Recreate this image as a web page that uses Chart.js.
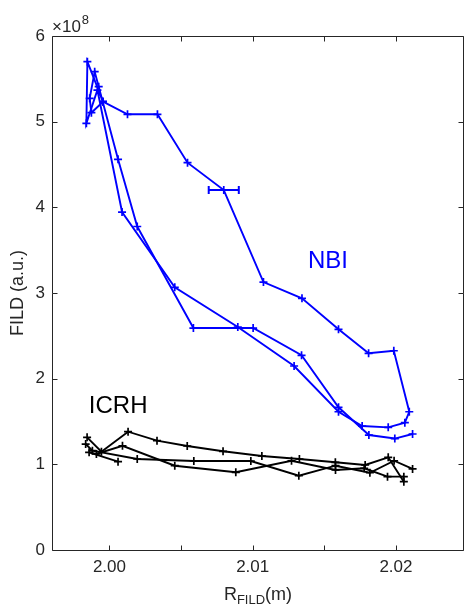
<!DOCTYPE html>
<html>
<head>
<meta charset="utf-8">
<script src="https://cdn.jsdelivr.net/npm/chart.js@4.4.1/dist/chart.umd.min.js"></script>
<style>
  html, body { margin: 0; padding: 0; background: #fff; }
  #wrap { position: relative; width: 464px; height: 607px; }
</style>
</head>
<body>
<div id="wrap"><canvas id="fild-chart"></canvas></div>
<script>
// FILD signal (in units of 1e8) against probe radius, NBI and ICRH heated phases

// NBI: outer trace, goes out along the upper branch and comes back
var nbiOutR    = [1.99955, 2.00126, 2.00335, 2.00545, 2.00798, 2.01075, 2.01344, 2.01599, 2.01809, 2.01985, 2.02093, 2.02062, 2.01946, 2.01764, 2.01599, 2.01289, 2.00896, 2.00456, 2.00088, 1.99916, 1.99839, 1.99846, 1.99955];
var nbiOutFild = [5.233, 5.086, 5.086, 4.521, 4.202, 3.128, 2.938, 2.576, 2.296, 2.326, 1.614, 1.486, 1.432, 1.447, 1.614, 2.148, 2.603, 3.066, 3.945, 5.369, 4.981, 5.700, 5.233];

// NBI: inner trace
var nbiInR    = [2.02116, 2.01992, 2.01811, 2.01599, 2.01341, 2.01003, 2.00586, 2.00194, 2.00060, 1.99925, 1.99897, 1.99862, 1.99874, 1.99955];
var nbiInFild = [1.354, 1.301, 1.342, 1.666, 2.273, 2.591, 2.591, 3.776, 4.560, 5.408, 5.583, 5.273, 5.105, 5.233];

// NBI point with radial uncertainty
var nbiErrR    = [2.00798];
var nbiErrFild = [4.202];
var nbiErrDR   = [0.00105];

// ICRH traces
var icrhAR    = [1.99844, 1.99944, 2.00130, 2.00332, 2.00543, 2.00793, 2.01064, 2.01326, 2.01577, 2.01785, 2.01946, 2.02055];
var icrhAFild = [1.315, 1.147, 1.381, 1.276, 1.214, 1.152, 1.097, 1.062, 1.024, 0.992, 1.082, 0.797];

var icrhBR    = [1.99834, 1.99881, 2.00194, 2.00589, 2.00987, 2.01322, 2.01578, 2.01818, 2.01987, 2.02116];
var icrhBFild = [1.237, 1.159, 1.062, 1.039, 1.039, 0.867, 0.984, 0.902, 1.042, 0.946];

var icrhCR    = [2.00060, 1.99858, 1.99909, 2.00091, 2.00456, 2.00882, 2.01271, 2.01578, 2.01778, 2.01941, 2.02055];
var icrhCFild = [1.031, 1.140, 1.121, 1.217, 0.984, 0.907, 1.042, 0.934, 0.954, 0.856, 0.856];

// axes
var xTicks    = [2.00, 2.005, 2.01, 2.015, 2.02];
var xTickText = ['2.00', '', '2.01', '', '2.02'];
var yTicks    = [0, 1, 2, 3, 4, 5, 6];

var axisColor = '#262626';
var blue = '#0000ff';
var black = '#000000';
var fontFamily = '"Liberation Sans", Arial, Helvetica, sans-serif';

function pts(xs, ys) {
    return xs.map(function (x, i) { return { x: x, y: ys[i] }; });
}

function trace(xs, ys, color) {
    return {
        data: pts(xs, ys),
        showLine: true,
        borderColor: color,
        backgroundColor: color,
        borderWidth: 1.9,
        pointStyle: 'cross',
        pointRadius: 4,
        pointBorderWidth: 1.7,
        pointHoverRadius: 4,
        tension: 0
    };
}

// box, inward ticks, error bar and text labels
var decorations = {
    id: 'decorations',
    afterDatasetsDraw: function (chart) {
        var ctx = chart.ctx, x = chart.scales.x, y = chart.scales.y;
        ctx.save();
        ctx.strokeStyle = blue;
        ctx.lineWidth = 2;
        nbiErrR.forEach(function (r, i) {
            var x0 = x.getPixelForValue(r - nbiErrDR[i]);
            var x1 = x.getPixelForValue(r + nbiErrDR[i]);
            var py = y.getPixelForValue(nbiErrFild[i]);
            ctx.beginPath();
            ctx.moveTo(x0, py); ctx.lineTo(x1, py);
            ctx.moveTo(x0, py - 4); ctx.lineTo(x0, py + 4);
            ctx.moveTo(x1, py - 4); ctx.lineTo(x1, py + 4);
            ctx.stroke();
        });

        ctx.font = '24px ' + fontFamily;
        ctx.textAlign = 'center';
        ctx.textBaseline = 'middle';
        ctx.fillStyle = blue;
        ctx.fillText('NBI', x.getPixelForValue(2.01525), y.getPixelForValue(3.365));
        ctx.fillStyle = black;
        ctx.fillText('ICRH', x.getPixelForValue(2.00061), y.getPixelForValue(1.681));
        ctx.restore();
    },
    afterDraw: function (chart) {
        var ctx = chart.ctx, a = chart.chartArea, x = chart.scales.x, y = chart.scales.y;
        var L = Math.round(a.left) + 0.5, R = Math.round(a.right) - 0.5;
        var T = Math.round(a.top) + 0.5, B = Math.round(a.bottom) + 0.5;
        var tick = 5;
        ctx.save();
        ctx.strokeStyle = axisColor;
        ctx.lineWidth = 1;
        ctx.beginPath();
        ctx.rect(L, T, R - L, B - T);
        xTicks.forEach(function (v) {
            var px = Math.round(x.getPixelForValue(v)) + 0.5;
            ctx.moveTo(px, B); ctx.lineTo(px, B - tick);
            ctx.moveTo(px, T); ctx.lineTo(px, T + tick);
        });
        yTicks.forEach(function (v) {
            var py = Math.round(y.getPixelForValue(v)) + 0.5;
            ctx.moveTo(L, py); ctx.lineTo(L + tick, py);
            ctx.moveTo(R, py); ctx.lineTo(R - tick, py);
        });
        ctx.stroke();

        // exponent of the y axis
        ctx.fillStyle = axisColor;
        ctx.textAlign = 'left';
        ctx.textBaseline = 'alphabetic';
        ctx.font = '17px ' + fontFamily;
        ctx.fillText('\u00d710', a.left, a.top - 4);
        var w = ctx.measureText('\u00d710').width;
        ctx.font = '13px ' + fontFamily;
        ctx.fillText('8', a.left + w + 1, a.top - 12);

        // x axis title with subscript
        var cx = (a.left + a.right) / 2;
        ctx.font = '18px ' + fontFamily;
        var wR = ctx.measureText('R').width;
        var wM = ctx.measureText('(m)').width;
        ctx.font = '13px ' + fontFamily;
        var wS = ctx.measureText('FILD').width;
        var x0 = cx - (wR + wS + wM) / 2;
        var base = a.bottom + 50;
        ctx.font = '18px ' + fontFamily;
        ctx.fillText('R', x0, base);
        ctx.font = '13px ' + fontFamily;
        ctx.fillText('FILD', x0 + wR, base + 4);
        ctx.font = '18px ' + fontFamily;
        ctx.fillText('(m)', x0 + wR + wS, base);
        ctx.restore();
    }
};

var ctx = document.getElementById('fild-chart');

var config = {
    type: 'scatter',
    data: {
        datasets: [
            trace(nbiOutR, nbiOutFild, blue),
            trace(nbiInR, nbiInFild, blue),
            trace(icrhAR, icrhAFild, black),
            trace(icrhBR, icrhBFild, black),
            trace(icrhCR, icrhCFild, black)
        ]
    },
    options: {
        responsive: true,
        maintainAspectRatio: false,
        animation: false,
        layout: {
            autoPadding: false,
            padding: { top: 36, right: 0, left: 0, bottom: 0 }
        },
        plugins: {
            legend: { display: false },
            tooltip: { enabled: false }
        },
        scales: {
            x: {
                type: 'linear',
                min: 1.99599,
                max: 2.02475,
                grid: { display: false, drawTicks: false },
                border: { display: false },
                afterBuildTicks: function (scale) {
                    scale.ticks = xTicks.map(function (v) { return { value: v }; });
                },
                afterFit: function (scale) {
                    scale.height = 57;
                    scale.paddingLeft = 0;
                    scale.paddingRight = 0;
                },
                ticks: {
                    padding: 7,
                    maxRotation: 0,
                    autoSkip: false,
                    color: axisColor,
                    font: { family: fontFamily, size: 17 },
                    callback: function (value, index) { return xTickText[index]; }
                }
            },
            y: {
                type: 'linear',
                min: 0,
                max: 6,
                grid: { display: false, drawTicks: false },
                border: { display: false },
                afterBuildTicks: function (scale) {
                    scale.ticks = yTicks.map(function (v) { return { value: v }; });
                },
                afterFit: function (scale) {
                    scale.width = 52;
                    scale.paddingTop = 0;
                    scale.paddingBottom = 0;
                },
                title: {
                    display: true,
                    text: 'FILD (a.u.)',
                    color: axisColor,
                    font: { family: fontFamily, size: 18 },
                    padding: { top: 7, bottom: 0 }
                },
                ticks: {
                    padding: 7,
                    autoSkip: false,
                    color: axisColor,
                    font: { family: fontFamily, size: 17 },
                    callback: function (value) { return String(value); }
                }
            }
        }
    },
    plugins: [decorations]
};

var fildChart = new Chart(ctx, config);
</script>
</body>
</html>
